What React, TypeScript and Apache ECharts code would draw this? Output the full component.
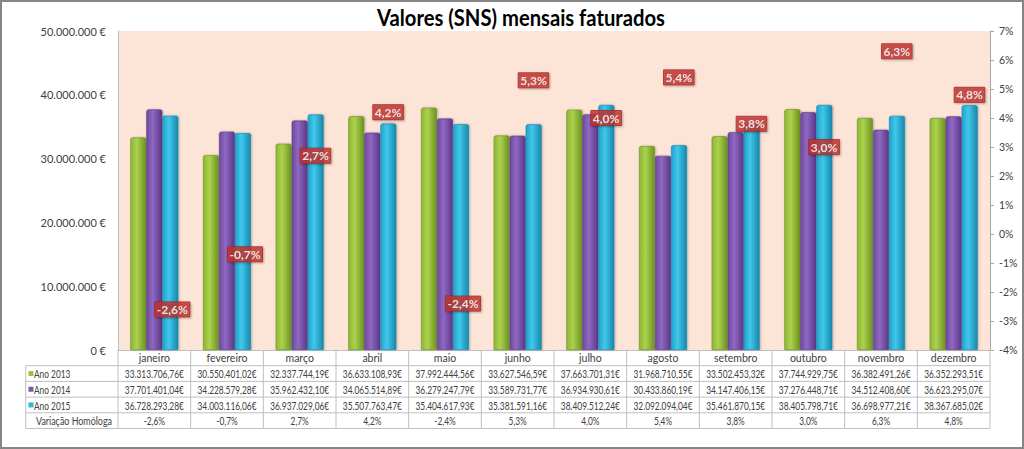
import React, { useEffect, useRef } from "react";
import * as echarts from "echarts";

const titleText = "Valores (SNS) mensais faturados";
const months = ["janeiro", "fevereiro", "março", "abril", "maio", "junho", "julho", "agosto", "setembro", "outubro", "novembro", "dezembro"];
const seriesNames = ["Ano 2013", "Ano 2014", "Ano 2015"];
const ano2013 = [33313706.76, 30550401.02, 32337744.19, 36633108.93, 37992444.56, 33627546.59, 37663701.31, 31968710.55, 33502453.32, 37744929.75, 36382491.26, 36352293.51];
const ano2014 = [37701401.04, 34228579.28, 35962432.1, 34065514.89, 36279247.79, 33589731.77, 36934930.61, 30433860.19, 34147406.15, 37276448.71, 34512408.6, 36623295.07];
const ano2015 = [36728293.28, 34003116.06, 36937029.06, 35507763.47, 35404617.93, 35381591.16, 38409512.24, 32092094.04, 35461870.15, 38405798.71, 36698977.21, 38367685.02];
const variacaoName = "Variação Homóloga";
const variacao = [-2.6, -0.7, 2.7, 4.2, -2.4, 5.3, 4.0, 5.4, 3.8, 3.0, 6.3, 4.8];
const leftAxis = { min: 0, max: 50000000, interval: 10000000 };
const rightAxis = { min: -4, max: 7, interval: 1 };

const FONT = "Lato";
const TEXT_COLOR = "#404040";
const LINE_COLOR = "#BFBFBF";

const seriesColors = [
  ["#8DB634", "#ADD14E", "#6C9220"],
  ["#6E4A9F", "#8F68C2", "#5A3888"],
  ["#22A2C9", "#40C8EC", "#1887AC"],
];
const legendColors = ["#9BC43C", "#7D57AD", "#31B5DB"];

function group3(intPart: string): string {
  return intPart.replace(/\B(?=(\d{3})+(?!\d))/g, ".");
}
function fmtEuro(v: number): string {
  const s = v.toFixed(2);
  const [i, d] = s.split(".");
  return group3(i) + "," + d + "€";
}
function fmtAxisEuro(v: number): string {
  return group3(String(Math.round(v))) + " €";
}
function fmtPct(v: number): string {
  return v.toFixed(1).replace(".", ",") + "%";
}

let measureCtx: CanvasRenderingContext2D | null = null;
function textWidth(text: string, font: string): number {
  if (!measureCtx) measureCtx = document.createElement("canvas").getContext("2d");
  if (!measureCtx) return text.length * 6;
  measureCtx.font = font;
  return measureCtx.measureText(text).width;
}

function hGrad(stops: string[]) {
  return new echarts.graphic.LinearGradient(0, 0, 1, 0, [
    { offset: 0, color: stops[0] },
    { offset: 0.4, color: stops[1] },
    { offset: 1, color: stops[2] },
  ]);
}

export default function App() {
  const ref = useRef<HTMLDivElement>(null);

  useEffect(() => {
    document.body.style.margin = "0";
    if (!ref.current) return;
    const chart = echarts.init(ref.current, null, { renderer: "svg" });

    const barData = [ano2013, ano2014, ano2015];
    const barSeries = barData.map((d, i) => ({
      type: "bar",
      name: seriesNames[i],
      data: d,
      barWidth: 16,
      barGap: "0%",
      yAxisIndex: 0,
      itemStyle: {
        color: hGrad(seriesColors[i]),
        borderColor: seriesColors[i][2],
        borderWidth: 0.6,
        borderRadius: [2, 2, 0, 0],
        shadowColor: "rgba(0,0,0,0.25)",
        shadowBlur: 2,
        shadowOffsetX: 1,
        shadowOffsetY: 0,
      },
    }));

    chart.setOption({
      animation: false,
      backgroundColor: "#FFFFFF",
      grid: {
        left: 118,
        right: 34,
        top: 31,
        bottom: 99,
        show: true,
        backgroundColor: "#FCE5D7",
        borderWidth: 0,
      },
      xAxis: {
        type: "category",
        data: months,
        boundaryGap: true,
        axisLine: { show: true, lineStyle: { color: LINE_COLOR, width: 1 } },
        axisTick: { show: false },
        axisLabel: { color: TEXT_COLOR, fontFamily: FONT, fontSize: 10.5, margin: 2 },
      },
      yAxis: [
        {
          type: "value",
          min: leftAxis.min,
          max: leftAxis.max,
          interval: leftAxis.interval,
          axisLine: { show: true, lineStyle: { color: LINE_COLOR } },
          axisTick: { show: false },
          splitLine: { show: false },
          axisLabel: {
            color: TEXT_COLOR,
            fontFamily: FONT,
            fontSize: 11,
            margin: 12,
            formatter: (v: number) => fmtAxisEuro(v),
          },
        },
        {
          type: "value",
          position: "right",
          min: rightAxis.min,
          max: rightAxis.max,
          interval: rightAxis.interval,
          axisLine: { show: true, lineStyle: { color: "#A6A6A6" } },
          axisTick: { show: true, length: 4, lineStyle: { color: "#A6A6A6" } },
          splitLine: { show: false },
          axisLabel: {
            color: TEXT_COLOR,
            fontFamily: FONT,
            fontSize: 10.5,
            margin: 9,
            formatter: (v: number) => v + "%",
          },
        },
      ],
      series: [
        ...barSeries,
        {
          type: "scatter",
          name: variacaoName,
          yAxisIndex: 1,
          data: variacao,
          symbol: "circle",
          symbolSize: 1,
          itemStyle: { color: "rgba(0,0,0,0)" },
          z: 10,
          label: {
            show: true,
            position: "right",
            distance: 0,
            formatter: (p: any) => fmtPct(p.value),
            color: "#FFFFFF",
            fontFamily: FONT,
            fontWeight: "bold",
            fontSize: 12,
            lineHeight: 13,
            backgroundColor: "#C23431",
            borderColor: "#9A1E1E",
            borderWidth: 0.5,
            padding: [1, 2, 1, 2],
            shadowColor: "rgba(0,0,0,0.35)",
            shadowBlur: 2,
            shadowOffsetX: 1,
            shadowOffsetY: 1,
            textShadowColor: "rgba(0,0,0,0.45)",
            textShadowBlur: 1,
          },
        },
      ],
    });

    const centers = months.map((m) => chart.convertToPixel({ xAxisIndex: 0 }, m) as number);
    const colW = centers.length > 1 ? centers[1] - centers[0] : 72.67;
    const gl = centers[0] - colW / 2;
    const gr = centers[centers.length - 1] + colW / 2;
    const gb = chart.convertToPixel({ yAxisIndex: 0 }, leftAxis.min) as number;
    const rowH = 15.7;
    const tableLeft = 25.7;
    const nRows = 4;

    const tableFont = `11.5px ${FONT}`;
    const tableScale = 59 / textWidth("33.313.706,76€", tableFont);
    const varScale = 76 / textWidth(variacaoName, tableFont);
    const titleFont = `bold 22px ${FONT}`;
    const titleScale = 288 / textWidth(titleText, titleFont);

    const g: any[] = [];
    g.push({
      type: "rect",
      silent: true,
      shape: { x: 1, y: 1, width: 1022, height: 447 },
      style: { fill: "none", stroke: "#868686", lineWidth: 2 },
    });
    g.push({
      type: "text",
      silent: true,
      x: 521,
      y: 17,
      scaleX: titleScale,
      style: {
        text: titleText,
        align: "center",
        verticalAlign: "middle",
        font: titleFont,
        fill: "#000000",
      },
    });
    for (let k = 1; k <= nRows + 1; k++) {
      const y = gb + k * rowH;
      g.push({
        type: "line",
        silent: true,
        shape: { x1: tableLeft, y1: y, x2: gr, y2: y },
        style: { stroke: LINE_COLOR, lineWidth: 1 },
      });
    }
    g.push({
      type: "line",
      silent: true,
      shape: { x1: tableLeft, y1: gb + rowH, x2: tableLeft, y2: gb + (nRows + 1) * rowH },
      style: { stroke: LINE_COLOR, lineWidth: 1 },
    });
    for (let j = 0; j <= months.length; j++) {
      const x = gl + j * colW;
      g.push({
        type: "line",
        silent: true,
        shape: { x1: x, y1: gb, x2: x, y2: gb + (nRows + 1) * rowH },
        style: { stroke: LINE_COLOR, lineWidth: 1 },
      });
    }
    const rowLabels = [...seriesNames, variacaoName];
    rowLabels.forEach((lab, r) => {
      const cy = gb + (r + 1.5) * rowH;
      if (r < 3) {
        g.push({
          type: "rect",
          silent: true,
          shape: { x: 28.5, y: cy - 2.5, width: 5, height: 5 },
          style: { fill: legendColors[r] },
        });
      }
      g.push({
        type: "text",
        silent: true,
        x: r < 3 ? 34 : 36,
        y: cy,
        scaleX: r < 3 ? tableScale : varScale,
        style: {
          text: lab,
          align: "left",
          verticalAlign: "middle",
          font: tableFont,
          fill: TEXT_COLOR,
        },
      });
    });
    const rowsData = [ano2013, ano2014, ano2015];
    months.forEach((_, j) => {
      const cx = centers[j];
      rowsData.forEach((arr, r) => {
        g.push({
          type: "text",
          silent: true,
          x: cx,
          y: gb + (r + 1.5) * rowH,
          scaleX: tableScale,
          style: {
            text: fmtEuro(arr[j]),
            align: "center",
            verticalAlign: "middle",
            font: tableFont,
            fill: TEXT_COLOR,
          },
        });
      });
      g.push({
        type: "text",
        silent: true,
        x: cx,
        y: gb + 4.5 * rowH,
        scaleX: tableScale,
        style: {
          text: fmtPct(variacao[j]),
          align: "center",
          verticalAlign: "middle",
          font: tableFont,
          fill: TEXT_COLOR,
        },
      });
    });

    chart.setOption({ graphic: g });

    return () => chart.dispose();
  }, []);

  return <div ref={ref} style={{ width: 1024, height: 449 }} />;
}
